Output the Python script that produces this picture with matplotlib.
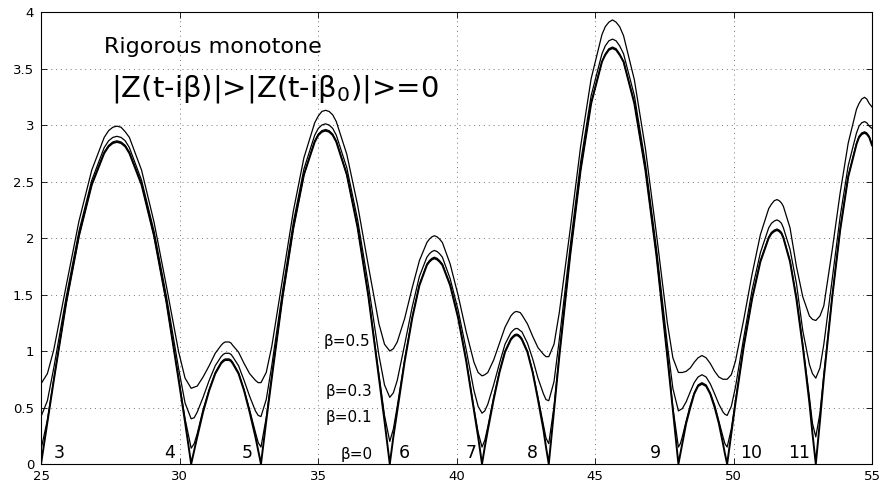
import matplotlib
matplotlib.use("Agg")
import matplotlib.pyplot as plt

plt.rcParams['font.family'] = ['DejaVu Sans']
plt.rcParams['mathtext.fontset'] = 'dejavusans'
plt.rcParams['mathtext.default'] = 'regular'

# ---- data ----
t = [25.00, 25.23, 25.46, 25.91, 26.37, 26.83, 27.28, 27.44, 27.59, 27.74, 27.89, 28.04, 28.19, 28.63, 29.08, 29.53, 29.97, 30.20, 30.42,
     30.53, 30.64, 30.85, 31.07, 31.29, 31.50, 31.58, 31.65, 31.72, 31.79, 31.86, 31.92, 32.13, 32.33, 32.53, 32.74, 32.84, 32.94,
     33.13, 33.33, 33.72, 34.11, 34.49, 34.88, 35.01, 35.14, 35.27, 35.40, 35.53, 35.66, 36.04, 36.43, 36.82, 37.20, 37.40, 37.59,
     37.72, 37.86, 38.13, 38.40, 38.66, 38.93, 39.02, 39.11, 39.20, 39.30, 39.39, 39.49, 39.77, 40.06, 40.35, 40.63, 40.78, 40.92,
     41.02, 41.13, 41.34, 41.55, 41.75, 41.96, 42.03, 42.10, 42.17, 42.23, 42.30, 42.36, 42.56, 42.75, 42.94, 43.14, 43.23, 43.33,
     43.52, 43.71, 44.10, 44.48, 44.86, 45.25, 45.37, 45.50, 45.63, 45.76, 45.89, 46.03, 46.42, 46.82, 47.22, 47.61, 47.81, 48.01,
     48.08, 48.15, 48.29, 48.44, 48.58, 48.72, 48.86, 49.01, 49.16, 49.32, 49.47, 49.62, 49.69, 49.77,
     49.92, 50.07, 50.37, 50.67, 50.97, 51.27, 51.37, 51.47, 51.57, 51.65, 51.73, 51.80, 52.04, 52.27, 52.50, 52.74, 52.85, 52.97,
     53.12, 53.26, 53.56, 53.85, 54.14, 54.44, 54.53, 54.63, 54.73, 54.81, 54.90, 55.00]

z_beta0 = [0.00, 0.37, 0.74, 1.43, 2.02, 2.47, 2.75, 2.81, 2.84, 2.85, 2.84, 2.81, 2.75, 2.47, 2.02, 1.43, 0.74, 0.37, 0.00,
           0.12, 0.24, 0.46, 0.65, 0.80, 0.89, 0.91, 0.92, 0.92, 0.92, 0.91, 0.89, 0.80, 0.65, 0.46, 0.24, 0.12, 0.00,
           0.38, 0.76, 1.48, 2.09, 2.56, 2.85, 2.91, 2.94, 2.95, 2.94, 2.91, 2.85, 2.56, 2.09, 1.48, 0.76, 0.38, 0.00,
           0.24, 0.47, 0.91, 1.29, 1.58, 1.76, 1.79, 1.81, 1.82, 1.81, 1.79, 1.76, 1.58, 1.29, 0.91, 0.47, 0.24, 0.00,
           0.15, 0.30, 0.57, 0.81, 0.99, 1.10, 1.12, 1.135, 1.14, 1.135, 1.12, 1.10, 0.99, 0.81, 0.57, 0.30, 0.15, 0.00,
           0.48, 0.95, 1.84, 2.60, 3.19, 3.56, 3.62, 3.665, 3.68, 3.665, 3.62, 3.56, 3.19, 2.60, 1.84, 0.95, 0.48, 0.00,
           0.09, 0.18, 0.36, 0.50, 0.62, 0.69, 0.71, 0.69, 0.62, 0.50, 0.36, 0.18, 0.09, 0.00,
           0.27, 0.54, 1.04, 1.46, 1.79, 2.00, 2.04, 2.06, 2.07, 2.06, 2.04, 2.00, 1.79, 1.46, 1.04, 0.54, 0.27, 0.00,
           0.38, 0.76, 1.47, 2.07, 2.54, 2.83, 2.89, 2.92, 2.93, 2.92, 2.89, 2.82]

z_beta01 = [0.13, 0.39, 0.75, 1.43, 2.02, 2.48, 2.76, 2.82, 2.85, 2.86, 2.85, 2.82, 2.76, 2.48, 2.02, 1.43, 0.75, 0.40, 0.14,
            0.18, 0.27, 0.48, 0.66, 0.81, 0.90, 0.92, 0.93, 0.93, 0.93, 0.92, 0.90, 0.81, 0.66, 0.48, 0.28, 0.19, 0.15,
            0.41, 0.78, 1.48, 2.09, 2.56, 2.86, 2.92, 2.95, 2.96, 2.95, 2.92, 2.86, 2.56, 2.10, 1.49, 0.79, 0.43, 0.20,
            0.31, 0.51, 0.93, 1.30, 1.59, 1.77, 1.80, 1.82, 1.83, 1.82, 1.80, 1.77, 1.59, 1.30, 0.92, 0.49, 0.28, 0.15,
            0.21, 0.33, 0.59, 0.82, 1.00, 1.11, 1.13, 1.145, 1.15, 1.145, 1.13, 1.11, 1.00, 0.82, 0.59, 0.34, 0.23, 0.18,
            0.51, 0.97, 1.85, 2.61, 3.20, 3.56, 3.63, 3.675, 3.69, 3.675, 3.63, 3.56, 3.20, 2.61, 1.85, 0.97, 0.50, 0.15,
            0.18, 0.24, 0.38, 0.52, 0.63, 0.70, 0.72, 0.70, 0.63, 0.52, 0.38, 0.24, 0.18, 0.15,
            0.31, 0.56, 1.05, 1.47, 1.80, 2.01, 2.05, 2.07, 2.08, 2.07, 2.05, 2.01, 1.80, 1.48, 1.06, 0.59, 0.36, 0.24,
            0.45, 0.79, 1.48, 2.08, 2.55, 2.84, 2.90, 2.93, 2.94, 2.93, 2.90, 2.83]

z_beta03 = [0.42, 0.56, 0.85, 1.48, 2.06, 2.51, 2.80, 2.86, 2.89, 2.90, 2.89, 2.86, 2.80, 2.51, 2.06, 1.48, 0.84, 0.54, 0.40,
            0.41, 0.46, 0.59, 0.74, 0.87, 0.95, 0.97, 0.98, 0.98, 0.98, 0.97, 0.95, 0.87, 0.74, 0.60, 0.47, 0.43, 0.42,
            0.57, 0.87, 1.53, 2.14, 2.61, 2.91, 2.97, 3.00, 3.01, 3.00, 2.97, 2.91, 2.62, 2.16, 1.58, 0.96, 0.70, 0.59,
            0.63, 0.74, 1.06, 1.39, 1.66, 1.83, 1.86, 1.88, 1.89, 1.88, 1.86, 1.83, 1.64, 1.36, 1.01, 0.65, 0.51, 0.45,
            0.47, 0.53, 0.70, 0.89, 1.06, 1.16, 1.18, 1.195, 1.20, 1.195, 1.18, 1.17, 1.07, 0.93, 0.76, 0.62, 0.57, 0.56,
            0.73, 1.10, 1.92, 2.67, 3.26, 3.63, 3.70, 3.745, 3.76, 3.745, 3.70, 3.63, 3.26, 2.66, 1.90, 1.06, 0.67, 0.47,
            0.48, 0.49, 0.55, 0.64, 0.72, 0.77, 0.79, 0.77, 0.71, 0.62, 0.53, 0.46, 0.44, 0.43,
            0.51, 0.68, 1.12, 1.54, 1.87, 2.09, 2.13, 2.15, 2.16, 2.15, 2.13, 2.09, 1.90, 1.60, 1.18, 0.88, 0.80, 0.76,
            0.85, 1.06, 1.63, 2.19, 2.64, 2.93, 2.99, 3.02, 3.03, 3.02, 2.99, 2.97]

z_beta05 = [0.71, 0.80, 1.01, 1.58, 2.15, 2.60, 2.89, 2.95, 2.98, 2.99, 2.98, 2.94, 2.89, 2.60, 2.14, 1.57, 0.99, 0.76, 0.67,
            0.68, 0.69, 0.77, 0.87, 0.98, 1.05, 1.07, 1.08, 1.08, 1.08, 1.07, 1.05, 0.99, 0.89, 0.80, 0.74, 0.72, 0.72,
            0.81, 1.04, 1.64, 2.24, 2.71, 3.02, 3.08, 3.12, 3.13, 3.12, 3.09, 3.03, 2.74, 2.29, 1.75, 1.24, 1.06, 1.00,
            1.02, 1.08, 1.29, 1.56, 1.80, 1.96, 1.99, 2.01, 2.02, 2.01, 1.99, 1.96, 1.77, 1.49, 1.17, 0.90, 0.81, 0.78,
            0.79, 0.81, 0.92, 1.07, 1.21, 1.31, 1.33, 1.345, 1.35, 1.345, 1.34, 1.32, 1.24, 1.13, 1.03, 0.97, 0.95, 0.95,
            1.06, 1.34, 2.07, 2.81, 3.41, 3.80, 3.87, 3.91, 3.93, 3.91, 3.87, 3.79, 3.40, 2.79, 2.03, 1.25, 0.94, 0.81,
            0.81, 0.81, 0.82, 0.85, 0.90, 0.94, 0.96, 0.94, 0.89, 0.82, 0.77, 0.75, 0.75, 0.75,
            0.79, 0.91, 1.28, 1.68, 2.03, 2.26, 2.30, 2.33, 2.34, 2.33, 2.31, 2.28, 2.09, 1.75, 1.48, 1.31, 1.28, 1.27,
            1.31, 1.40, 1.89, 2.40, 2.84, 3.14, 3.19, 3.23, 3.245, 3.23, 3.19, 3.16]

x_ticks = [25, 30, 35, 40, 45, 50, 55]
y_ticks = [0, 0.5, 1, 1.5, 2, 2.5, 3, 3.5, 4]
y_tick_labels = ['0', '0.5', '1', '1.5', '2', '2.5', '3', '3.5', '4']

zero_labels = ['3', '4', '5', '6', '7', '8', '9', '10', '11']
beta_labels = ['\u03b2=0.5', '\u03b2=0.3', '\u03b2=0.1', '\u03b2=0']

# ---- figure ----
fig = plt.figure(figsize=(8.9, 4.84), dpi=100)
ax = fig.add_axes([0.0461, 0.0413, 0.9337, 0.9339])

ax.plot(t, z_beta05, color='black', linewidth=0.9)
ax.plot(t, z_beta03, color='black', linewidth=0.9)
ax.plot(t, z_beta01, color='black', linewidth=0.9)
ax.plot(t, z_beta0, color='black', linewidth=1.4)

ax.set_xlim(25, 55)
ax.set_ylim(0, 4)
ax.set_xticks(x_ticks)
ax.set_xticklabels([str(v) for v in x_ticks])
ax.set_yticks(y_ticks)
ax.set_yticklabels(y_tick_labels)

ax.grid(True, linestyle=(0, (1, 4)), color='#777777', linewidth=0.7)
ax.tick_params(direction='in', length=4, width=0.6, top=True, right=True,
               labelsize=9.5, colors='black')
ax.tick_params(axis='y', pad=5.0)
ax.tick_params(axis='x', pad=4.0)
for sp in ax.spines.values():
    sp.set_color('black')
    sp.set_linewidth(0.8)

# annotations
ax.text(27.27, 3.637, 'Rigorous monotone', fontsize=16, ha='left', va='baseline')
ax.text(27.54, 3.25, r'|Z(t-i$\beta$)|>|Z(t-i$\beta_0$)|>=0', fontsize=21,
        ha='left', va='baseline')

beta_label_x = [36.87, 36.95, 36.95, 36.97]
beta_label_y = [1.08, 0.64, 0.41, 0.08]
for lab, bx, by in zip(beta_labels, beta_label_x, beta_label_y):
    ax.text(bx, by, lab, fontsize=11, ha='right', va='center')

zero_label_x = [25.64, 29.64, 32.45, 38.12, 40.52, 42.73, 47.18, 50.64, 52.36]
for lab, zx in zip(zero_labels, zero_label_x):
    ax.text(zx, 0.095, lab, fontsize=12.5, ha='center', va='center')

fig.savefig('out.png', dpi=100)
